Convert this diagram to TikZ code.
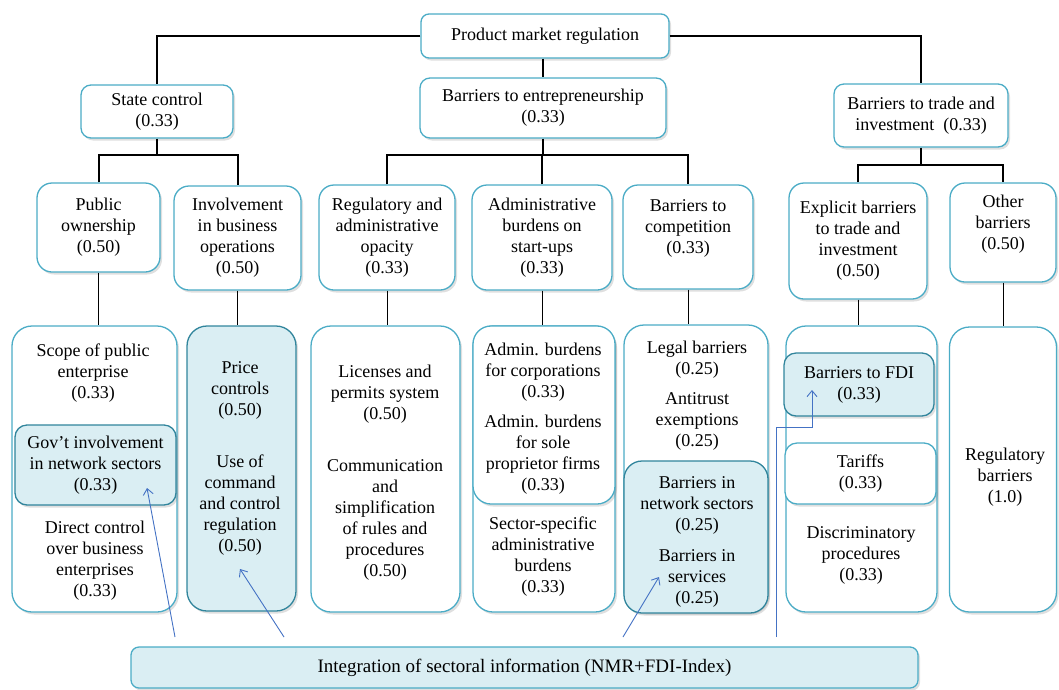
\documentclass[tikz,border=0pt]{standalone}
\usepackage{fontspec}
\setmainfont{Liberation Serif}
\usepackage{tikz}
\usetikzlibrary{shadows,arrows.meta,calc}

\definecolor{boxline}{RGB}{75,172,198}
\definecolor{boxdark}{RGB}{49,133,156}
\definecolor{boxfill}{RGB}{218,238,243}
\definecolor{arrowblue}{RGB}{68,114,196}

\begin{document}
\begin{tikzpicture}[x=1pt,y=-1pt,
  every node/.style={font=\fontsize{18}{21}\selectfont, align=center, inner sep=0pt},
  box/.style={draw=boxline, line width=1.3pt, fill=white, rounded corners=#1,
    drop shadow={shadow xshift=2pt, shadow yshift=-2.5pt, opacity=0.25}},
  box/.default=15pt,
  bluebox/.style={box=#1, fill=boxfill, draw=boxdark},
  bluebox/.default=12pt,
  wh/.style 2 args={minimum width=#1*1pt, minimum height=#2*1pt},
  trunk/.style={draw=black, line width=2pt},
  stem/.style={draw=black, line width=1pt},
  link/.style={draw=arrowblue, line width=0.9pt, -{Straight Barb[length=6pt,width=10pt]}}]
\useasboundingbox (0,0) rectangle (1059,689);

% top levels
\node[box=8pt, wh={248}{44}] (pmr) at (545,36) {Product market regulation};
\node[box=10pt, wh={152}{53}] (sc) at (157,111.5) {State control\\(0.33)};
\node[box=10pt, wh={246}{60}] (be) at (543,108) {Barriers to entrepreneurship\\(0.33)};
\node[box=10pt, wh={174}{63}] (bti) at (921,115.5) {Barriers to trade and\\investment~~(0.33)};

\foreach \name/\x/\y/\w/\h/\txt in {
  po/98.5/227.5/123/89/{Public\\ownership\\(0.50)},
  ib/237.5/238/127/104/{Involvement\\in business\\operations\\(0.50)},
  ra/387/237.5/136/105/{Regulatory and\\administrative\\opacity\\(0.33)},
  ab/542/237.5/140/105/{Administrative\\burdens on\\start-ups\\(0.33)},
  bc/688/237/130/104/{Barriers to\\competition\\(0.33)\\\mbox{}},
  eb/858/241/138/116/{Explicit barriers\\to trade and\\investment\\(0.50)},
  ob/1003/232.5/106/99/{Other\\barriers\\(0.50)\\\mbox{}}}
  \node[box, wh={\w}{\h}] (\name) at (\x,\y) {\txt};

% indicator boxes
\node[box=20pt, wh={165}{286}] (pob) at (94.5,469) {};
\node[bluebox=20pt, wh={109}{285}] (pc) at (241.5,468.5) {};
\node[box=20pt, wh={149}{286}] (lp) at (385.5,469) {};
\node[box=20pt, wh={142}{286}] (abb) at (544,469) {};
\node[box=20pt, wh={144}{287}] (bcb) at (696,468.5) {};
\node[box=20pt, wh={151}{286}] (ebb) at (861.5,469) {};
\node[box=20pt, wh={107}{285}] (obb) at (1003,469.5) {};

\node[bluebox, wh={161}{80}] (gov) at (95.5,465) {Gov’t involvement\\in network sectors\\(0.33)};
\node[box=18pt, wh={142}{178}] (abt) at (544,415) {};
\node[bluebox=18pt, wh={144}{152}] (net) at (696,537) {};
\node[bluebox, wh={150}{63}] (fdi) at (859,384.5) {Barriers to FDI\\(0.33)};
\node[box=12pt, wh={151}{61}] (tar) at (860.5,473.5) {Tariffs\\(0.33)};

\foreach \name/\x/\y/\txt in {
  scope/93/373/{Scope of public\\enterprise\\(0.33)},
  direct/95/561/{Direct control\\over business\\enterprises\\(0.33)},
  price/240/390/{Price\\controls\\(0.50)},
  command/240/505/{Use of\\command\\and control\\regulation\\(0.50)},
  licence/385/394/{Licenses and\\permits system\\(0.50)},
  simpl/385/519.5/{Communication\\and\\simplification\\of rules and\\procedures\\(0.50)},
  corp/543/372.5/{Admin. burdens\\for corporations\\(0.33)},
  sole/543/455/{Admin. burdens\\for sole\\proprietor firms\\(0.33)},
  sector/543/557/{Sector-specific\\administrative\\burdens\\(0.33)},
  legal/697/359.5/{Legal barriers\\(0.25)},
  trust/697/421/{Antitrust\\exemptions\\(0.25)},
  netw/697/505/{Barriers in\\network sectors\\(0.25)},
  serv/697/578/{Barriers in\\services\\(0.25)},
  discr/861/555/{Discriminatory\\procedures\\(0.33)},
  regul/1005/477/{Regulatory\\barriers\\(1.0)}}
  \node (\name) at (\x,\y) {\txt};

\node[box=8pt, fill=boxfill, wh={787}{41}, font=\fontsize{19}{21}\selectfont] (int) at (524.5,667.5) {Integration of sectoral information (NMR+FDI-Index)};

% tree
\draw[trunk] (pmr.west) -| (sc.north);
\draw[trunk] (pmr.south -| be.north) -- (be.north);
\draw[trunk] (pmr.east) -| (bti.north);

\coordinate (scf) at (157,155);
\coordinate (bef) at (543,155);
\coordinate (btif) at (921,165);
\draw[trunk] (sc.south) -- (scf);
\draw[trunk] (po.north) |- (scf) -| (ib.north);
\draw[trunk] (be.south) -- (bef);
\draw[trunk] (ra.north) |- (bef) -| (bc.north);
\draw[trunk] (ab.north) -- (ab.north |- bef);
\draw[trunk] (bti.south) -- (btif);
\draw[trunk] (eb.north) |- (btif) -| (ob.north);

\foreach \a/\b in {po/pob, ib/pc, ra/lp, ab/abb, bc/bcb, eb/ebb, ob/obb}
  \draw[stem] (\a.south) -- (\a.south |- \b.north);

% sectoral links
\coordinate (a1) at (175,637); \coordinate (h1) at (147,488);
\coordinate (a2) at (284,637); \coordinate (h2) at (240,569);
\coordinate (a3) at (623,637); \coordinate (h3) at (659,577);
\coordinate (a4) at (776,637); \coordinate (h4) at (812,390);
\foreach \i in {1,2,3}
  \draw[link] (a\i) -- (h\i);
\draw[link] (a4) |- ($(h4)+(0,37)$) -- (h4);
\end{tikzpicture}
\end{document}
